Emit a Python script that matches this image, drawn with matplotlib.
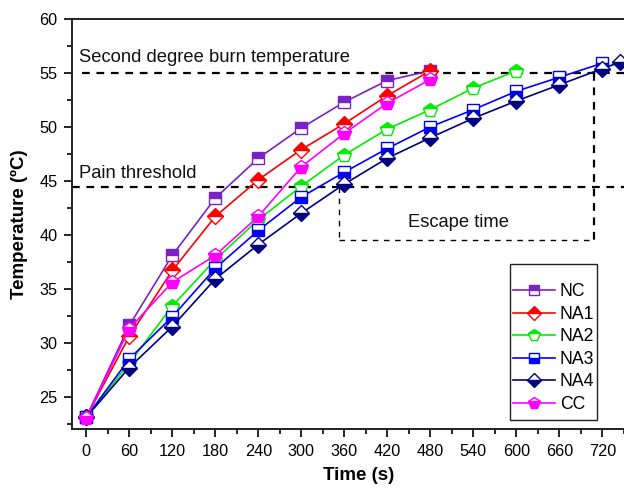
import matplotlib
matplotlib.use("Agg")
import matplotlib.pyplot as plt
from matplotlib.patches import Rectangle

plt.rcParams['font.family'] = ['Liberation Sans', 'DejaVu Sans']

# Heating time (s) and skin-side temperature (°C) for each fabric
time_main = [0, 60, 120, 180, 240, 300, 360, 420, 480]
time_na2 = [0, 60, 120, 180, 240, 300, 360, 420, 480, 540, 600]
time_na3 = [0, 60, 120, 180, 240, 300, 360, 420, 480, 540, 600, 660, 720]
time_na4 = [0, 60, 120, 180, 240, 300, 360, 420, 480, 540, 600, 660, 720, 745]

temp_nc = [23.1, 31.6, 38.1, 43.4, 47.1, 49.9, 52.3, 54.3, 55.2]
temp_na1 = [23.1, 30.6, 36.7, 41.7, 45.1, 47.9, 50.3, 52.9, 55.2]
temp_na2 = [23.1, 28.1, 33.4, 37.7, 41.4, 44.5, 47.4, 49.8, 51.6, 53.6, 55.2]
temp_na3 = [23.1, 28.5, 32.4, 36.9, 40.4, 43.5, 45.8, 48.0, 50.0, 51.6, 53.3, 54.6, 55.9]
temp_na4 = [23.1, 27.7, 31.5, 35.9, 39.1, 42.0, 44.7, 47.1, 49.0, 50.8, 52.4, 53.9, 55.4, 56.0]
temp_cc = [23.0, 31.3, 35.6, 38.1, 41.7, 46.3, 49.4, 52.2, 54.4]

labels = ['NC', 'NA1', 'NA2', 'NA3', 'NA4', 'CC']
colors = ['#7B22C4', '#FF0000', '#00EE00', '#0000FF', '#000080', '#FF00FF']
markers = ['s', 'D', 'p', 's', 'D', 'p']
fills = ['top', 'top', 'top', 'bottom', 'bottom', 'bottom']

pain_threshold = 44.4
burn_temperature = 55.0
escape_start = 352
escape_end = 708
escape_floor = 39.55

fig = plt.figure(figsize=(6.24, 4.90), dpi=100)
ax = fig.add_axes([72 / 624, 61 / 490, 573.3 / 624, 410 / 490])

series = [
    (time_main, temp_nc),
    (time_main, temp_na1),
    (time_na2, temp_na2),
    (time_na3, temp_na3),
    (time_na4, temp_na4),
    (time_main, temp_cc),
]

for (t, y), lab, c, m, fs in zip(series, labels, colors, markers, fills):
    ms = 8 if m == 's' else (8.5 if m == 'D' else 10)
    ax.plot(t, y, color=c, lw=1.2, marker=m, ms=ms, fillstyle=fs,
            markerfacecolor=c, markerfacecoloralt='white',
            markeredgecolor=c, markeredgewidth=1.0, label=lab, zorder=3)

dash_main = dict(color='black', lw=1.6, ls=(0, (3.5, 3.0)), zorder=2)
dash_thin = dict(color='black', lw=1.0, ls=(0, (4.0, 4.0)), zorder=2)

ax.plot([-6, 780], [burn_temperature, burn_temperature], **dash_main)
ax.plot([-20, 780], [pain_threshold, pain_threshold], **dash_main)
ax.plot([escape_end, escape_end], [burn_temperature, escape_floor - 0.2], **dash_main)
ax.plot([escape_start, escape_start], [pain_threshold, escape_floor], **dash_thin)
ax.plot([escape_start, escape_end], [escape_floor, escape_floor], **dash_thin)

ax.text(-10, 56.0, 'Second degree burn temperature', fontsize=13.2,
        ha='left', va='baseline', color='#111111')
ax.text(-10, 45.22, 'Pain threshold', fontsize=13.2,
        ha='left', va='baseline', color='#111111')
ax.text(519, 41.1, 'Escape time', fontsize=13.2,
        ha='center', va='center', color='#111111')

ax.set_xlim(-20, 780)
ax.set_ylim(22, 60)
ax.set_xticks(range(0, 721, 60))
ax.set_xticks(range(30, 780, 60), minor=True)
ax.set_yticks(range(25, 61, 5))
ax.set_yticks([22.5 + 5 * i for i in range(8)], minor=True)
ax.tick_params(axis='both', which='major', direction='out', length=5.5,
               width=1.2, labelsize=11.7, pad=5, top=False, right=False)
ax.tick_params(axis='both', which='minor', direction='out', length=3.5,
               width=1.2, top=False, right=False)
for sp in ax.spines.values():
    sp.set_linewidth(1.4)
    sp.set_color('#222222')

ax.set_xlabel('Time (s)', fontsize=13.5, fontweight='bold', labelpad=6)
ax.set_ylabel('Temperature (ºC)', fontsize=13.5, fontweight='bold', labelpad=8)

# Legend entries without their own frame; a plain box is drawn around them
leg = ax.legend(loc='upper left', bbox_to_anchor=(0.769, 0.355),
                fontsize=12.7, frameon=False, markerscale=0.85,
                handlelength=2.37, handletextpad=0.3,
                labelspacing=0.31, borderpad=0.0, borderaxespad=0.0)
leg.set_zorder(6)
ax.add_patch(Rectangle((0.764, 0.022), 0.1518, 0.380, transform=ax.transAxes,
                       facecolor='white', edgecolor='#222222', lw=1.0,
                       zorder=5))

fig.savefig('out.png', dpi=100)
